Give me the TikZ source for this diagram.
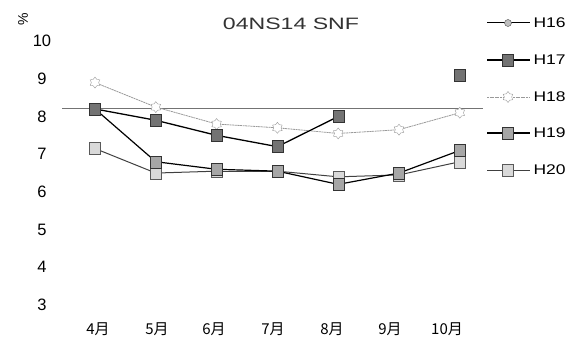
\documentclass[tikz,border=0pt]{standalone}
\usepackage{fontspec}
\setmainfont{Liberation Sans}
\newfontfamily\jpfont{Noto Sans CJK JP}
\usetikzlibrary{shapes.geometric}

\begin{document}
\begin{tikzpicture}[x=1pt, y=-1pt,
    ylab/.style={font=\fontsize{16.5}{16.5}\selectfont},
    mlab/.style={font=\jpfont\fontsize{15}{15}\selectfont},
    leglab/.style={anchor=west, font=\fontsize{14}{14}\selectfont},
    line16/.style={black, line width=1pt},
    line17/.style={black, line width=1.3pt},
    line18/.style={black!40, line width=0.8pt, dash pattern=on 2pt off 0.6pt},
    line19/.style={black, line width=1.2pt},
    line20/.style={black!75, line width=1pt},
    mark16/.style={circle, draw=black!70, fill=black!25, minimum size=7pt, inner sep=0pt},
    mark17/.style={rectangle, draw=black!80, fill=black!55, minimum width=11pt, minimum height=12pt, inner sep=0pt},
    mark18/.style={star, star points=6, draw=black!40, fill=white, minimum size=11pt, inner sep=0pt},
    mark19/.style={rectangle, draw=black!80, fill=black!35, minimum width=11pt, minimum height=12pt, inner sep=0pt},
    mark20/.style={rectangle, draw=black!65, fill=black!15, minimum width=11pt, minimum height=12pt, inner sep=0pt}]
    \useasboundingbox (0,0) rectangle (568,345);

    % Axis labels
    \node[rotate=90, font=\fontsize{14}{14}\selectfont] (pct) at (23,19) {\%};
    \foreach \v in {3,...,10} {
        \node[ylab] (y\v) at (42, {305-(\v-3)*37.7}) {\v};
    }
    \foreach \m/\xm [count=\i] in {4/98, 5/157, 6/214, 7/273, 8/332, 9/390, 10/447} {
        \node[mlab] (m\i) at (\xm, 329) {\m{}月};
    }

    % Title
    \node[font=\fontsize{16.5}{16.5}\selectfont, text=black!80] (title) at (291,24) {\scalebox{1.4}[1]{04NS14 SNF}};

    % Reference line
    \coordinate (refL) at (62,108);
    \coordinate (refR) at (483,108);
    \draw[black!55, line width=0.7pt] (refL) -- (refR);

    % Data points
    \foreach \v [count=\i from 0] in {8.2,7.9,7.5,7.2,8.0}
        \coordinate (h17-\i) at ({95+60.8*\i}, {305-(\v-3)*37.7});
    \coordinate (h17-6) at ({95+60.8*6}, {305-(9.1-3)*37.7});
    \foreach \v [count=\i from 0] in {8.9,8.25,7.8,7.7,7.55,7.65,8.1}
        \coordinate (h18-\i) at ({95+60.8*\i}, {305-(\v-3)*37.7});
    \foreach \v [count=\i from 0] in {8.2,6.8,6.6,6.55,6.2,6.5,7.1}
        \coordinate (h19-\i) at ({95+60.8*\i}, {305-(\v-3)*37.7});
    \foreach \v [count=\i from 0] in {7.15,6.5,6.55,6.55,6.4,6.45,6.8}
        \coordinate (h20-\i) at ({95+60.8*\i}, {305-(\v-3)*37.7});

    % Lines
    \foreach \i [remember=\i as \j (initially 0)] in {1,...,6} {
        \draw[line18] (h18-\j) -- (h18-\i);
        \draw[line20] (h20-\j) -- (h20-\i);
        \draw[line19] (h19-\j) -- (h19-\i);
    }
    \foreach \i [remember=\i as \j (initially 0)] in {1,...,4}
        \draw[line17] (h17-\j) -- (h17-\i);

    % Markers
    \foreach \i in {0,...,6} {
        \node[mark18] (p18-\i) at (h18-\i) {};
        \node[mark20] (p20-\i) at (h20-\i) {};
        \node[mark19] (p19-\i) at (h19-\i) {};
    }
    \foreach \i in {0,...,4,6}
        \node[mark17] (p17-\i) at (h17-\i) {};

    % Legend
    \foreach \s/\yl in {16/23, 17/60, 18/97, 19/133, 20/170} {
        \coordinate (lgL\s) at (487,\yl);
        \coordinate (lgR\s) at (530,\yl);
        \draw[line\s] (lgL\s) -- (lgR\s);
        \node[mark\s] (lgm\s) at (508,\yl) {};
        \node[leglab] (lgt\s) at (530,\yl) {\scalebox{1.25}[1]{H\s}};
    }
\end{tikzpicture}
\end{document}
